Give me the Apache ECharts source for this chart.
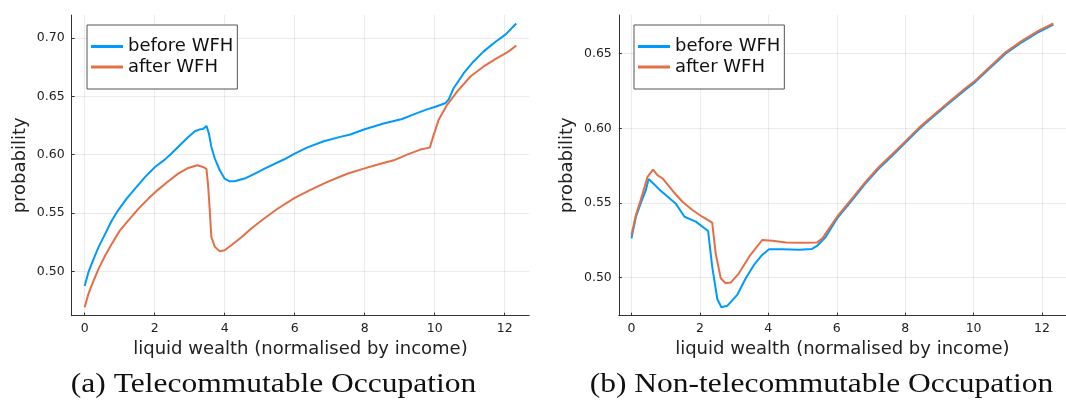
<!DOCTYPE html>
<html>
<head>
<meta charset="utf-8">
<script src="https://cdn.jsdelivr.net/npm/echarts@6/dist/echarts.min.js"></script>
<style>
  html, body { margin: 0; padding: 0; background: #ffffff; }
  #chart { width: 1066px; height: 403px; }
</style>
</head>
<body>
<div id="chart"></div>
<script>
// Panel (a): telecommutable occupation
const teleBeforeX = [0, 0.11, 0.26, 0.40, 0.59, 0.78, 0.97, 1.20, 1.44, 1.73, 2.01, 2.29, 2.48, 2.72, 2.96, 3.15, 3.29, 3.38, 3.48, 3.55, 3.62, 3.72, 3.86, 4.00, 4.14, 4.28, 4.57, 4.85, 5.14, 5.69, 6.00, 6.35, 6.83, 7.30, 7.59, 8.00, 8.54, 9.07, 9.40, 9.78, 10.00, 10.30, 10.40, 10.54, 10.83, 11.11, 11.40, 11.73, 12.02, 12.33];
const teleBeforeY = [0.4874, 0.4994, 0.5109, 0.5209, 0.5323, 0.5437, 0.5529, 0.5623, 0.5709, 0.5809, 0.5894, 0.5957, 0.6009, 0.6080, 0.6151, 0.6200, 0.6217, 0.6220, 0.6246, 0.6180, 0.6066, 0.5966, 0.5866, 0.5794, 0.5771, 0.5772, 0.5795, 0.5835, 0.5880, 0.5958, 0.6009, 0.6060, 0.6115, 0.6152, 0.6172, 0.6218, 0.6267, 0.6305, 0.6345, 0.6388, 0.6408, 0.6440, 0.6474, 0.6569, 0.6698, 0.6799, 0.6885, 0.6966, 0.7029, 0.7124];
const teleAfterX = [0, 0.11, 0.26, 0.40, 0.59, 0.78, 1.01, 1.25, 1.54, 1.82, 2.10, 2.39, 2.67, 2.96, 3.22, 3.38, 3.48, 3.53, 3.58, 3.62, 3.72, 3.86, 4.00, 4.19, 4.47, 4.76, 5.11, 5.50, 6.00, 6.45, 6.92, 7.50, 8.00, 8.45, 8.83, 9.21, 9.59, 9.86, 9.97, 10.11, 10.35, 10.64, 11.02, 11.40, 11.78, 12.07, 12.33];
const teleAfterY = [0.4692, 0.4809, 0.4923, 0.5023, 0.5137, 0.5237, 0.5351, 0.5437, 0.5537, 0.5623, 0.5700, 0.5771, 0.5837, 0.5886, 0.5909, 0.5894, 0.5877, 0.5723, 0.5494, 0.5294, 0.5209, 0.5171, 0.5180, 0.5223, 0.5289, 0.5366, 0.5448, 0.5534, 0.5629, 0.5698, 0.5764, 0.5836, 0.5882, 0.5922, 0.5951, 0.6000, 0.6043, 0.6060, 0.6167, 0.6296, 0.6425, 0.6540, 0.6670, 0.6756, 0.6828, 0.6876, 0.6934];

// Panel (b): non-telecommutable occupation
const nonBeforeX = [0, 0.13, 0.27, 0.42, 0.50, 0.66, 0.81, 1.00, 1.29, 1.55, 1.88, 2.24, 2.36, 2.51, 2.63, 2.80, 3.09, 3.34, 3.58, 3.82, 4.02, 4.41, 4.90, 5.28, 5.43, 5.67, 6.01, 6.45, 6.84, 7.23, 7.62, 8.01, 8.40, 8.79, 9.27, 9.76, 10.05, 10.44, 10.93, 11.42, 11.90, 12.33];
const nonBeforeY = [0.5263, 0.5408, 0.5497, 0.5586, 0.5660, 0.5626, 0.5591, 0.5553, 0.5497, 0.5408, 0.5375, 0.5312, 0.5074, 0.4855, 0.4802, 0.4811, 0.4884, 0.4996, 0.5085, 0.5152, 0.5190, 0.5190, 0.5187, 0.5192, 0.5214, 0.5270, 0.5397, 0.5519, 0.5631, 0.5731, 0.5816, 0.5905, 0.5994, 0.6072, 0.6166, 0.6259, 0.6311, 0.6395, 0.6500, 0.6578, 0.6645, 0.6694];
const nonAfterX = [0, 0.13, 0.27, 0.47, 0.63, 0.76, 0.91, 1.20, 1.49, 1.78, 2.07, 2.36, 2.46, 2.61, 2.75, 2.90, 3.14, 3.44, 3.82, 4.12, 4.51, 5.00, 5.43, 5.58, 6.01, 6.45, 6.84, 7.23, 7.62, 8.01, 8.40, 8.79, 9.27, 9.76, 10.05, 10.44, 10.93, 11.42, 11.90, 12.33];
const nonAfterY = [0.5285, 0.5419, 0.5519, 0.5675, 0.5724, 0.5687, 0.5664, 0.5582, 0.5508, 0.5453, 0.5408, 0.5368, 0.5163, 0.4996, 0.4962, 0.4967, 0.5029, 0.5140, 0.5252, 0.5247, 0.5236, 0.5234, 0.5236, 0.5263, 0.5408, 0.5530, 0.5641, 0.5741, 0.5826, 0.5914, 0.6003, 0.6081, 0.6175, 0.6268, 0.6320, 0.6404, 0.6509, 0.6587, 0.6654, 0.6702];

// Tick values
const xTicks = [0, 2, 4, 6, 8, 10, 12];
const teleYTicks = [0.50, 0.55, 0.60, 0.65, 0.70];
const nonYTicks = [0.50, 0.55, 0.60, 0.65];

const seriesNames = ['before WFH', 'after WFH'];
const captions = ['(a) Telecommutable Occupation', '(b) Non-telecommutable Occupation'];

const BLUE = '#009AFA';
const ORANGE = '#E36F47';
const SANS = 'DejaVu Sans';

function pairs(xs, ys) {
  return xs.map((x, i) => [x, ys[i]]);
}

function makeX(gridIndex) {
  return {
    type: 'value', gridIndex: gridIndex, min: -0.37, max: 12.70,
    name: 'liquid wealth (normalised by income)',
    nameLocation: 'middle', nameGap: 24,
    nameTextStyle: { fontFamily: SANS, fontSize: 18, color: '#222' },
    axisLine: { show: true, onZero: false, lineStyle: { color: '#333', width: 1 } },
    axisTick: { show: true, inside: true, length: 3, customValues: xTicks, lineStyle: { color: '#333' } },
    axisLabel: { customValues: xTicks, margin: 7, fontFamily: SANS, fontSize: 12.5, color: '#222',
                 formatter: v => String(v) },
    splitLine: { show: true, lineStyle: { color: 'rgba(0,0,0,0.08)', width: 1 } }
  };
}

function makeY(gridIndex, min, max, ticks) {
  return {
    type: 'value', gridIndex: gridIndex, min: min, max: max,
    name: 'probability', nameLocation: 'middle', nameGap: 42,
    nameTextStyle: { fontFamily: SANS, fontSize: 18, color: '#222' },
    axisLine: { show: true, onZero: false, lineStyle: { color: '#333', width: 1 } },
    axisTick: { show: true, inside: true, length: 3, customValues: ticks, lineStyle: { color: '#333' } },
    axisLabel: { customValues: ticks, margin: 7, fontFamily: SANS, fontSize: 12.5, color: '#222',
                 formatter: v => v.toFixed(2) },
    splitLine: { show: true, lineStyle: { color: 'rgba(0,0,0,0.08)', width: 1 } }
  };
}

function makeLine(name, idx, data, color) {
  return {
    type: 'line', name: name, xAxisIndex: idx, yAxisIndex: idx,
    data: data, showSymbol: false, symbol: 'none', smooth: false,
    lineStyle: { color: color, width: 2 }, itemStyle: { color: color },
    z: name === seriesNames[1] ? 3 : 2
  };
}

function makeLegend(left) {
  return {
    data: seriesNames, orient: 'vertical', left: left, top: 25,
    icon: 'rect', itemWidth: 32, itemHeight: 3, itemGap: 1.5,
    padding: [12, 4, 12.5, 4],
    backgroundColor: '#ffffff', borderColor: '#555', borderWidth: 1, borderRadius: 0,
    textStyle: { fontFamily: SANS, fontSize: 18, color: '#111', lineHeight: 19 },
    selectedMode: false
  };
}

function makeCaption(cx, text) {
  return {
    type: 'text', x: cx, y: 385, scaleX: 1.125,
    style: { text: text, x: 0, y: 0, align: 'center', verticalAlign: 'middle',
             font: '28px "Liberation Serif"', fill: '#111' }
  };
}

const chart = echarts.init(document.getElementById('chart'), null, { renderer: 'canvas' });
chart.setOption({
  animation: false,
  backgroundColor: '#ffffff',
  grid: [
    { left: 71.7, top: 15, right: 1066 - 529.2, bottom: 403 - 315.7, containLabel: false },
    { left: 618.8, top: 15, right: 1066 - 1076.2, bottom: 403 - 315.7, containLabel: false }
  ],
  xAxis: [makeX(0), makeX(1)],
  yAxis: [
    makeY(0, 0.4619, 0.7197, teleYTicks),
    makeY(1, 0.4745, 0.6759, nonYTicks)
  ],
  legend: [makeLegend(87), makeLegend(634)],
  series: [
    makeLine(seriesNames[0], 0, pairs(teleBeforeX, teleBeforeY), BLUE),
    makeLine(seriesNames[1], 0, pairs(teleAfterX, teleAfterY), ORANGE),
    makeLine(seriesNames[0], 1, pairs(nonBeforeX, nonBeforeY), BLUE),
    makeLine(seriesNames[1], 1, pairs(nonAfterX, nonAfterY), ORANGE)
  ],
  graphic: [
    makeCaption(273.5, captions[0]),
    makeCaption(821.5, captions[1])
  ]
});
</script>
</body>
</html>
